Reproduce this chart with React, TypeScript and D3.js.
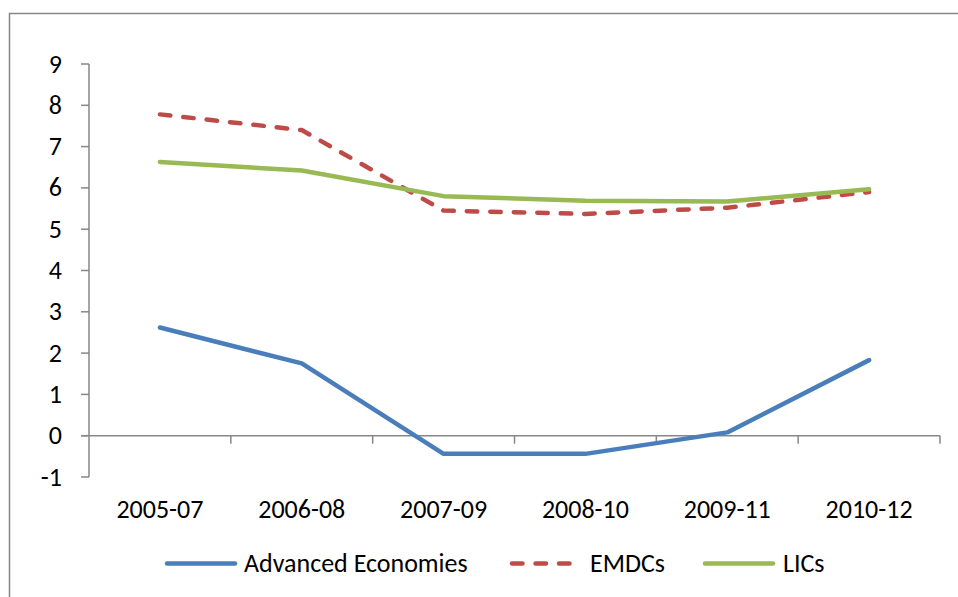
import React, { useEffect, useRef } from "react";
import * as d3 from "d3";

const categories = ["2005-07", "2006-08", "2007-09", "2008-10", "2009-11", "2010-12"];
const advanced = [2.62, 1.75, -0.44, -0.44, 0.08, 1.83];
const emdcs = [7.78, 7.4, 5.45, 5.37, 5.52, 5.9];
const lics = [6.63, 6.42, 5.8, 5.69, 5.67, 5.97];
const yTicks = [-1, 0, 1, 2, 3, 4, 5, 6, 7, 8, 9];
const seriesNames = ["Advanced Economies", "EMDCs", "LICs"];

const W = 958;
const H = 597;

export default function App() {
  const ref = useRef<SVGSVGElement | null>(null);

  useEffect(() => {
    const svg = d3.select(ref.current);
    svg.selectAll("*").remove();

    const font = "Carlito, Calibri, 'Liberation Sans', Arial, sans-serif";
    const axisColor = "#878787";
    const fs = 26;

    // outer frame
    svg.append("rect")
      .attr("x", 9.5).attr("y", 13.5)
      .attr("width", W + 20).attr("height", H + 20)
      .attr("fill", "none").attr("stroke", axisColor).attr("stroke-width", 1.5);

    const x0 = 89, x1 = 940;
    const x = d3.scaleBand<string>().domain(categories).range([x0, x1]).paddingInner(0).paddingOuter(0);
    const y = d3.scaleLinear().domain([-1, 9]).range([477, 64]);

    const g = svg.append("g");

    // y axis
    g.append("line").attr("x1", x0).attr("x2", x0).attr("y1", y(9)).attr("y2", y(-1))
      .attr("stroke", axisColor).attr("stroke-width", 1.5);
    yTicks.forEach((t) => {
      g.append("line").attr("x1", x0 - 8).attr("x2", x0).attr("y1", y(t)).attr("y2", y(t))
        .attr("stroke", axisColor).attr("stroke-width", 1.5);
      g.append("text").attr("x", 62).attr("y", y(t)).attr("dy", "0.33em")
        .attr("text-anchor", "end").attr("font-family", font).attr("font-size", fs)
        .attr("fill", "#000").text(String(t));
    });

    // x axis at 0
    g.append("line").attr("x1", x0 - 8).attr("x2", x1).attr("y1", y(0)).attr("y2", y(0))
      .attr("stroke", axisColor).attr("stroke-width", 1.5);
    const bounds = categories.map((c) => x(c) as number).concat([x1]);
    bounds.forEach((b, i) => {
      if (i === 0) return;
      g.append("line").attr("x1", b).attr("x2", b).attr("y1", y(0)).attr("y2", y(0) + 8)
        .attr("stroke", axisColor).attr("stroke-width", 1.5);
    });
    categories.forEach((c) => {
      g.append("text").attr("x", (x(c) as number) + x.bandwidth() / 2).attr("y", 518)
        .attr("text-anchor", "middle").attr("font-family", font).attr("font-size", fs)
        .attr("fill", "#000").text(c);
    });

    const line = d3.line<number>()
      .x((_, i) => (x(categories[i]) as number) + x.bandwidth() / 2)
      .y((d) => y(d));

    const series = [
      { name: seriesNames[0], data: advanced, color: "#4A7EBB", dash: null as string | null },
      { name: seriesNames[1], data: emdcs, color: "#BE4B48", dash: "10.5 13" },
      { name: seriesNames[2], data: lics, color: "#98B954", dash: null },
    ];

    series.forEach((s) => {
      const p = g.append("path").attr("d", line(s.data) as string)
        .attr("fill", "none").attr("stroke", s.color).attr("stroke-width", 4.5)
        .attr("stroke-linejoin", "round").attr("stroke-linecap", "round");
      if (s.dash) p.attr("stroke-dasharray", s.dash);
    });

    // legend
    const legendY = 563.5;
    const legendItems = [
      { lx: 167, tx: 244 },
      { lx: 512, tx: 590 },
      { lx: 705, tx: 783 },
    ];
    series.forEach((s, i) => {
      const it = legendItems[i];
      const l = g.append("line").attr("x1", it.lx).attr("x2", it.lx + 68)
        .attr("y1", legendY).attr("y2", legendY)
        .attr("stroke", s.color).attr("stroke-width", 4.5).attr("stroke-linecap", "round");
      if (s.dash) l.attr("stroke-dasharray", "10.5 13");
      g.append("text").attr("x", it.tx).attr("y", legendY).attr("dy", "0.33em")
        .attr("font-family", font).attr("font-size", fs).attr("fill", "#000").text(s.name);
    });
  }, []);

  return (
    <svg ref={ref} width={W} height={H}
      style={{ position: "absolute", left: 0, top: 0, background: "#fff" }} />
  );
}
